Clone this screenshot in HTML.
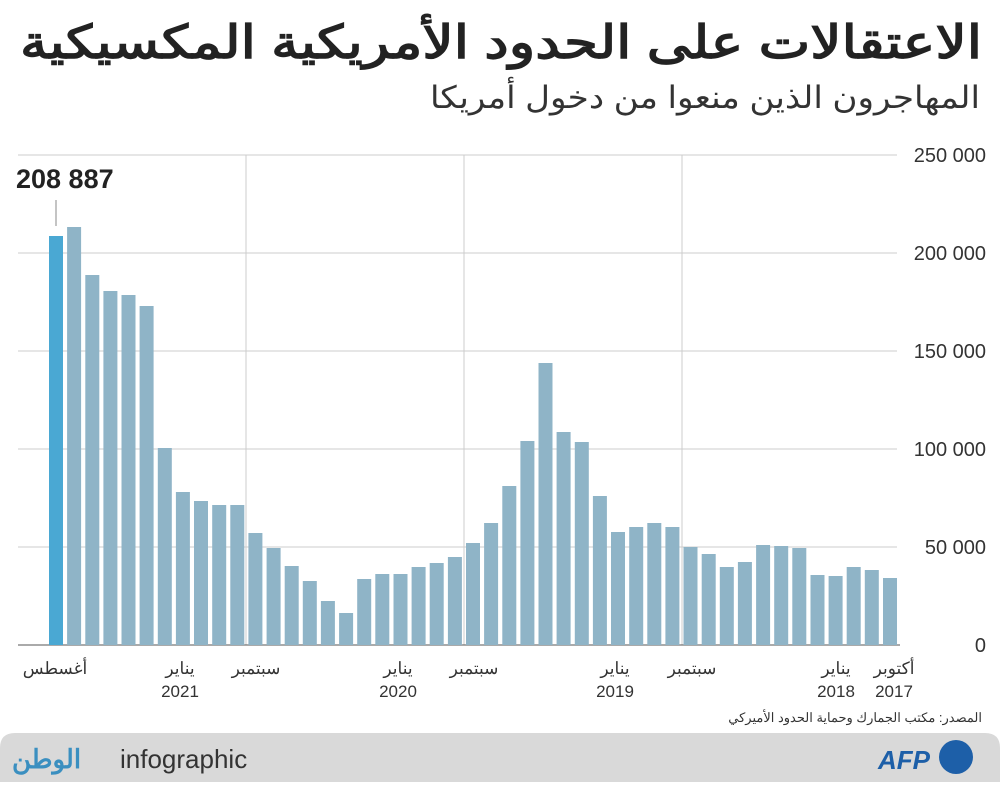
<!DOCTYPE html>
<html><head><meta charset="utf-8"><style>
body{margin:0;background:#fff;width:1000px;height:782px;overflow:hidden}
svg text{font-family:"Liberation Sans","Noto Sans CJK SC",sans-serif}
</style></head><body>
<svg width="1000" height="782" xmlns="http://www.w3.org/2000/svg">
<text x="982" y="58" text-anchor="end" font-size="46" font-weight="bold" fill="#222" textLength="962" lengthAdjust="spacingAndGlyphs">الاعتقالات على الحدود الأمريكية المكسيكية</text>
<text x="980" y="108" text-anchor="end" font-size="31" fill="#333" textLength="550" lengthAdjust="spacingAndGlyphs">المهاجرون الذين منعوا من دخول أمريكا</text>
<g stroke="#ccc" stroke-width="1">
<line x1="18" y1="155" x2="897" y2="155"/><line x1="18" y1="253" x2="897" y2="253"/><line x1="18" y1="351" x2="897" y2="351"/><line x1="18" y1="449" x2="897" y2="449"/><line x1="18" y1="547" x2="897" y2="547"/>
<line x1="246" y1="155" x2="246" y2="645"/><line x1="464" y1="155" x2="464" y2="645"/><line x1="682" y1="155" x2="682" y2="645"/>
</g>
<line x1="18" y1="645" x2="900" y2="645" stroke="#555" stroke-width="1"/>
<g font-size="20" fill="#333" text-anchor="end">
<text x="986" y="162">250 000</text><text x="986" y="260">200 000</text><text x="986" y="358">150 000</text><text x="986" y="456">100 000</text><text x="986" y="554">50 000</text><text x="986" y="652">0</text>
</g>
<g id="bars" fill="#8fb4c7"></g>
<line x1="56" y1="200" x2="56" y2="226" stroke="#888"/>
<text x="16" y="188" font-size="27" font-weight="bold" fill="#222">208 887</text>
<g font-size="17" fill="#333" text-anchor="middle">
<text x="55" y="674">أغسطس</text>
<text x="180" y="674">يناير</text><text x="180" y="697">2021</text>
<text x="256" y="674">سبتمبر</text>
<text x="398" y="674">يناير</text><text x="398" y="697">2020</text>
<text x="474" y="674">سبتمبر</text>
<text x="615" y="674">يناير</text><text x="615" y="697">2019</text>
<text x="692" y="674">سبتمبر</text>
<text x="836" y="674">يناير</text><text x="836" y="697">2018</text>
<text x="894" y="674">أكتوبر</text><text x="894" y="697">2017</text>
</g>
<text x="982" y="722" text-anchor="end" font-size="13" fill="#333">المصدر: مكتب الجمارك وحماية الحدود الأميركي</text>
<path d="M0 782 V748 Q0 733 15 733 H985 Q1000 733 1000 748 V782Z" fill="#d9d9d9"/>
<text x="12" y="768" font-size="26" font-weight="bold" fill="#3a8fc0">الوطن</text>
<text x="120" y="768" font-size="26" fill="#333">infographic</text>
<text x="878" y="769" font-size="26" font-weight="bold" font-style="italic" fill="#1d5fa8">AFP</text>
<circle cx="956" cy="757" r="17" fill="#1d5fa8"/>
</svg>
<script>
var tops=[236,227,275,291,295,306,448,492,501,505,505,533,548,566,581,601,613,579,574,574,567,563,557,543,523,486,441,363,432,442,496,532,527,523,527,547,554,567,562,545,546,548,575,576,567,570,578];
var g=document.getElementById('bars'),s='';
tops.forEach(function(t,i){var x=49+i*18.13;s+='<rect x="'+x.toFixed(1)+'" y="'+t+'" width="14" height="'+(645-t)+'"'+(i==0?' fill="#4aa8d3"':'')+'/>';});
g.innerHTML=s;
</script>
</body></html>
